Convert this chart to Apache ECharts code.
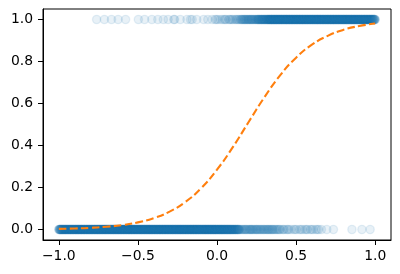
<!DOCTYPE html>
<html>
<head>
<meta charset="utf-8">
<script src="https://cdn.jsdelivr.net/npm/echarts@6/dist/echarts.min.js"></script>
<style>html,body{margin:0;padding:0;background:#fff;}#c{width:400px;height:274px;}</style>
</head>
<body>
<div id="c"></div>
<script>
// x positions of the observations with outcome 1 (top row)
const xOnes = [
-.761,-.712,-.667,-.625,-.578,-.497,-.458,-.412,-.374,-.339,-.309,-.273,-.268,-.232,-.19,-.168,-.157,-.128,-.085,-.058,-.031,-.012,-.004,.006,.021,.033,
.045,.058,.074,.086,.101,.113,.126,.139,.147,
.052,.080,.095,.120,.133,
.152,.159,.168,.176,.183,.192,.199,.207,.215,.221,.230,.238,.246,.253,.261,.268,.277,.284,.291,.297,.305,.311,.318,.324,.329,
.155,.164,.172,.180,.188,.196,.203,.211,.218,.225,.233,.241,.249,.257,.264,.272,.280,.287,.294,.301,.308,.314,.321,.327,.331,
.259,.266,.274,.282,.289,.299,.303,.315,.320,.326,
.333,.337,.340,.344,.347,.351,.354,.358,.361,.365,.368,.372,.375,.379,.382,.386,.389,.393,.396,
.400,.403,.407,.410,.414,.417,.421,.424,.428,.431,.435,.438,.442,.445,.449,.452,.456,.459,.463,.466,.470,.473,.477,.480,.484,.487,.491,.494,.498,
.501,.505,.508,.512,.515,.519,.522,.526,.529,.533,.536,.540,.543,.547,.550,.554,.557,.561,.564,.568,.571,.575,.578,.582,.585,.589,.592,.596,.599,
.603,.606,.610,.613,.617,.620,.624,.627,.631,.634,.638,.641,.645,.648,.652,.655,.659,.662,.666,.669,.673,.676,.680,.683,.687,.690,.694,.697,
.701,.704,.708,.711,.715,.718,.722,.725,.729,.732,.736,.739,.743,.746,.750,.753,.757,.760,.764,.767,.771,.774,.778,.781,.785,.788,.792,.795,.799,
.802,.806,.809,.813,.816,.820,.823,.827,.830,.834,.837,.841,.844,.848,.851,.855,.858,.862,.865,.869,.872,.876,.879,.883,.886,.890,.893,.897,
.900,.904,.907,.911,.914,.918,.921,.925,.928,.932,.935,.939,.942,.946,.949,.953,.956,.960,.963,.967,.970,.974,.977,.981,.984,.988,.991,.995,.998,1.0,
.335,.339,.342,.346,.349,.353,.356,.360,.363,.367,.370,.374,.377,.381,.384,.388,.391,.395,.398,
.402,.405,.409,.412,.416,.419,.423,.426,.430,.433,.437,.440,.444,.447,.451,.454,.458,.461,.465,.468,.472,.475,.479,.482,.486,.489,.493,.496,
.500,.503,.507,.510,.514,.517,.521,.524,.528,.531,.535,.538,.542,.545,.549,.552,.556,.559,.563,.566,.570,.573,.577,.580,.584,.587,.591,.594,.598,
.601,.605,.608,.612,.615,.619,.622,.626,.629,.633,.636,.640,.643,.647,.650,.654,.657,.661,.664,.668,.671,.675,.678,.682,.685,.689,.692,.696,.699,
.703,.706,.710,.713,.717,.720,.724,.727,.731,.734,.738,.741,.745,.748,.752,.755,.759,.762,.766,.769,.773,.776,.780,.783,.787,.790,.794,.797,
.800,.804,.807,.811,.814,.818,.821,.825,.828,.832,.835,.839,.842,.846,.849,.853,.856,.860,.863,.867,.870,.874,.877,.881,.884,.888,.891,.895,.898,
.902,.905,.909,.912,.916,.919,.923,.926,.930,.933,.937,.940,.944,.947,.951,.955,.958,.962,.965,.969,.972,.976,.979,.983,.986,.990,.993,.997
];
// x positions of the observations with outcome 0 (bottom row)
const xZeros = [
-1.000,-.997,-.993,-.989,-.987,-.983,-.979,-.976,-.973,-.968,-.966,-.962,-.958,-.955,-.951,-.949,-.944,-.941,-.938,-.934,-.930,-.927,-.924,-.920,-.916,-.913,-.910,-.906,-.903,
-.899,-.896,-.892,-.888,-.885,-.882,-.878,-.874,-.872,-.868,-.864,-.861,-.857,-.854,-.851,-.847,-.843,-.840,-.836,-.833,-.830,-.826,-.822,-.819,-.815,-.812,-.809,-.805,-.802,
-.798,-.795,-.791,-.788,-.784,-.781,-.777,-.774,-.770,-.767,-.763,-.760,-.756,-.752,-.749,-.746,-.742,-.739,-.735,-.731,-.728,-.725,-.721,-.718,-.714,-.711,-.707,-.704,-.701,
-.697,-.694,-.690,-.687,-.683,-.679,-.676,-.673,-.669,-.666,-.662,-.658,-.655,-.652,-.648,-.645,-.641,-.637,-.634,-.631,-.627,-.624,-.620,-.616,-.613,-.610,-.606,-.603,
-.599,-.596,-.592,-.589,-.585,-.581,-.578,-.575,-.571,-.568,-.564,-.560,-.557,-.554,-.550,-.547,-.543,-.539,-.536,-.533,-.529,-.526,-.522,-.518,-.515,-.512,-.508,-.505,-.501,
-.498,-.494,-.491,-.487,-.483,-.480,-.477,-.473,-.470,-.466,-.462,-.459,-.456,-.452,-.449,-.445,-.441,-.438,-.435,-.431,-.428,-.424,-.420,-.417,-.414,-.410,-.407,-.403,
-.399,-.396,-.393,-.389,-.385,-.382,-.379,-.375,-.372,-.368,-.364,-.361,-.358,-.354,-.351,-.347,-.343,-.340,-.337,-.333,-.330,-.326,-.322,-.319,-.316,-.312,-.309,-.305,-.302,
-.298,-.295,-.291,-.287,-.284,-.281,-.277,-.274,-.270,-.266,-.263,-.260,-.256,-.253,-.249,-.245,-.242,-.239,-.235,-.232,-.228,-.224,-.221,-.218,-.214,-.211,-.207,-.203,
-.200,-.197,-.193,-.189,-.186,-.183,-.179,-.176,-.172,-.168,-.165,-.162,-.158,-.155,-.151,-.147,-.144,-.141,-.137,-.134,-.130,-.126,-.123,-.120,-.116,-.113,-.109,-.105,-.102,
-.098,-.095,-.091,-.087,-.084,-.081,-.077,-.074,-.070,-.066,-.063,-.060,-.056,-.053,-.049,-.045,-.042,-.039,-.035,-.032,-.028,-.024,-.021,-.018,-.014,-.011,-.007,-.003,
.000,.004,.008,.011,.015,.019,.022,.026,.030,.033,.037,.041,.045,.048,.052,.056,.060,.063,.067,.071,.075,.079,.083,.087,.091,.095,.099,.103,.107,.112,.116,.120,.125,.129,.134,.138,.143,
.151,.160,.172,.181,.190,.202,.211,.219,.228,.240,.249,.258,.270,.279,.291,.300,.312,.322,.331,.343,.352,.364,.377,.389,.400,.414,.427,.441,.455,.468,
.155,.166,.177,.186,.196,.207,.215,.224,.234,.245,.254,.264,.275,.285,.296,.306,.317,.327,.337,.348,.358,.370,.383,.395,.420,.448,
.485,.503,.521,.540,.556,.572,.590,.608,.625,.643,.660,
.494,.530,.565,.598,.634,
.694,.736,.853,.916,.968,
-.998,-.995,-.991,-.988,-.985,-.981,-.978,-.974,-.971,-.967,-.964,-.960,-.957,-.953,-.950,-.946,-.943,-.939,-.936,-.932,-.929,-.925,-.922,-.918,-.915,-.911,-.908,-.904,-.901,
-.897,-.894,-.890,-.887,-.883,-.880,-.876,-.873,-.870,-.866,-.862,-.859,-.856,-.852,-.849,-.845,-.842,-.838,-.835,-.831,-.828,-.824,-.821,-.817,-.814,-.810,-.807,-.803,-.800,
-.796,-.793,-.789,-.786,-.782,-.779,-.775,-.772,-.768,-.765,-.761,-.758,-.754,-.751,-.747,-.744,-.740,-.737,-.733,-.730,-.726,-.723,-.719,-.716,-.712,-.709,-.705,-.702,
-.699,-.695,-.692,-.688,-.685,-.681,-.678,-.674,-.671,-.667,-.664,-.660,-.657,-.653,-.650,-.646,-.643,-.639,-.636,-.632,-.629,-.625,-.622,-.618,-.615,-.611,-.608,-.604,-.601,
-.597,-.594,-.590,-.587,-.583,-.580,-.576,-.573,-.569,-.566,-.562,-.559,-.555,-.552,-.548,-.545,-.541,-.538,-.534,-.531,-.527,-.524,-.520,-.517,-.513,-.510,-.506,-.503,
-.499,-.496,-.492,-.489,-.485,-.482,-.478,-.475,-.471,-.468,-.464,-.461,-.457,-.454,-.450,-.447,-.443,-.440,-.436,-.433,-.429,-.426,-.422,-.419,-.415,-.412,-.408,-.405,-.401,
-.398,-.394,-.391,-.387,-.384,-.380,-.377,-.373,-.370,-.366,-.363,-.359,-.356,-.352,-.349,-.345,-.342,-.338,-.335,-.331,-.328,-.324,-.321,-.317,-.314,-.310,-.307,-.303,-.300,
-.297,-.293,-.289,-.286,-.282,-.279,-.275,-.272,-.268,-.265,-.261,-.258,-.254,-.251,-.247,-.244,-.240,-.237,-.233,-.230,-.226,-.223,-.219,-.216,-.212,-.209,-.205,-.202,
-.198,-.195,-.191,-.188,-.184,-.181,-.177,-.174,-.170,-.167,-.163,-.160,-.156,-.153,-.149,-.146,-.142,-.139,-.135,-.132,-.128,-.125,-.121,-.118,-.114,-.111,-.107,-.104,-.100,
-.097,-.093,-.089,-.086,-.082,-.079,-.075,-.072,-.068,-.065,-.061,-.058,-.054,-.051,-.047,-.044,-.040,-.037,-.033,-.030,-.026,-.023,-.019,-.016,-.012,-.009,-.005,-.002,
.002,.006,.010,.013,.017,.021,.024,.028,.032,.035,.039,.043,.047,.050,.054,.058,.062,.065,.069,.073,.077,.081,.085,.089,.093,.097,.101,.105,.110,.114,.118,.123,.127,.132,.136,.141
];
// fitted probability curve
const curveX = [-1.0,-0.9,-0.8,-0.7,-0.6,-0.5,-0.4,-0.3,-0.2,-0.1,0.0,0.1,0.2,0.3,0.4,0.5,0.6,0.7,0.8,0.9,1.0];
const curveY = [0.003,0.005,0.008,0.013,0.021,0.034,0.054,0.085,0.131,0.197,0.285,0.392,0.512,0.63,0.735,0.818,0.88,0.922,0.951,0.969,0.981];
const xTicks = [-1.0,-0.5,0.0,0.5,1.0];
const yTicks = [0.0,0.2,0.4,0.6,0.8,1.0];

const fmt = v => v.toFixed(1).replace('-', '\u2212');
const chart = echarts.init(document.getElementById('c'), null, {renderer: 'canvas'});
const scatterStyle = {color: '#1f77b4', opacity: 0.1, borderColor: '#1f77b4', borderWidth: 1.4};
chart.setOption({
  animation: false,
  grid: {left: 43, right: 9, top: 9, bottom: 34, show: true, borderColor: '#000', borderWidth: 1, backgroundColor: '#fff'},
  xAxis: {
    type: 'value', min: -1.1, max: 1.1,
    splitLine: {show: false},
    axisLine: {show: true, onZero: false, lineStyle: {color: '#000', width: 1}},
    axisTick: {show: true, length: 5, customValues: xTicks, lineStyle: {color: '#000', width: 1}},
    axisLabel: {customValues: xTicks, formatter: fmt, color: '#000', fontSize: 13.9, fontFamily: 'DejaVu Sans', margin: 9}
  },
  yAxis: {
    type: 'value', min: -0.05, max: 1.05,
    splitLine: {show: false},
    axisLine: {show: true, onZero: false, lineStyle: {color: '#000', width: 1}},
    axisTick: {show: true, length: 5, customValues: yTicks, lineStyle: {color: '#000', width: 1}},
    axisLabel: {customValues: yTicks, formatter: fmt, color: '#000', fontSize: 13.9, fontFamily: 'DejaVu Sans', margin: 10}
  },
  series: [
    {type: 'scatter', symbolSize: 8.3, itemStyle: scatterStyle, data: xZeros.map(x => [x, 0]), z: 2, silent: true, large: false},
    {type: 'scatter', symbolSize: 8.3, itemStyle: scatterStyle, data: xOnes.map(x => [x, 1]), z: 2, silent: true, large: false},
    {type: 'line', smooth: true, showSymbol: false, z: 3, silent: true,
     lineStyle: {color: '#ff7f0e', width: 2.08, type: [7.7, 3.3]},
     data: curveX.map((x, i) => [x, curveY[i]])}
  ]
});
</script>
</body>
</html>
